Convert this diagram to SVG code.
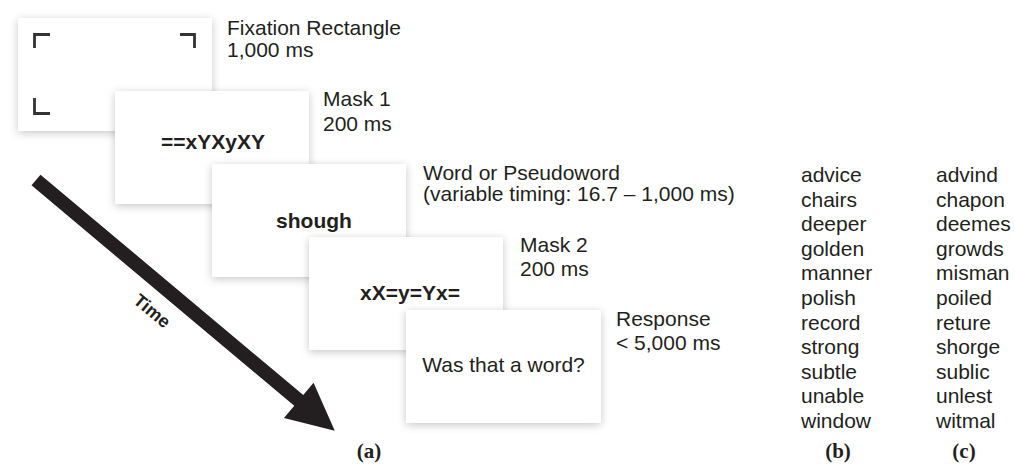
<svg xmlns="http://www.w3.org/2000/svg" width="1015" height="465" viewBox="0 0 1015 465">
<style>
text{font-family:"Liberation Sans",Arial,sans-serif;fill:#231f20}
.lbl{font-size:21px}
.cb{font-size:21px;font-weight:bold;text-anchor:middle}
.cr{font-size:21px;text-anchor:middle}
.wl{font-size:21px}
.cap{font-family:"Liberation Serif","Times New Roman",serif;font-size:21px;font-weight:bold;text-anchor:middle}
.card{fill:#fff;filter:url(#sh)}
.mark{fill:none;stroke:#333;stroke-width:2.8}
</style>
<defs>
<filter id="sh" x="-20%" y="-20%" width="140%" height="140%">
<feDropShadow dx="0" dy="2" stdDeviation="4" flood-color="#000" flood-opacity="0.22"/>
</filter>
</defs>
<rect width="1015" height="465" fill="#fff"/>
<g id="screen-fixation">
<rect class="card" x="18" y="18" width="194" height="113"/>
<path class="mark" d="M34.5,48 V34.5 H50"/>
<path class="mark" d="M180,34.5 H194.5 V48"/>
<path class="mark" d="M34.5,98 V113.5 H50"/>
<text class="lbl" x="227" y="35">Fixation Rectangle</text>
<text class="lbl" x="227" y="57">1,000 ms</text>
</g>
<g id="screen-mask1">
<rect class="card" x="115" y="91" width="194" height="113"/>
<text class="cb" x="213" y="149">==xYXyXY</text>
<text class="lbl" x="323" y="106">Mask 1</text>
<text class="lbl" x="323" y="131">200 ms</text>
</g>
<g id="screen-word">
<rect class="card" x="212" y="164" width="194" height="113"/>
<text class="cb" x="314" y="228">shough</text>
<text class="lbl" x="423" y="180">Word or Pseudoword</text>
<text class="lbl" x="423" y="201">(variable timing: 16.7 – 1,000 ms)</text>
</g>
<g id="screen-mask2">
<rect class="card" x="309" y="237" width="194" height="113"/>
<text class="cb" x="410" y="300">xX=y=Yx=</text>
<text class="lbl" x="520" y="252">Mask 2</text>
<text class="lbl" x="520" y="276">200 ms</text>
</g>
<g id="screen-response">
<rect class="card" x="406" y="310" width="195" height="113"/>
<text class="cr" x="503.5" y="372">Was that a word?</text>
<text class="lbl" x="616" y="326">Response</text>
<text class="lbl" x="616" y="350">&lt; 5,000 ms</text>
</g>
<g id="connectors">
<g id="time-arrow" transform="translate(36,180) rotate(40)">
<polygon points="0,-7 343,-7 343,-23 390,0 343,23 343,7 0,7" fill="#231f20"/>
</g>
<text transform="translate(152,311) rotate(40)" x="0" y="6" style="font-size:18px;font-weight:bold;text-anchor:middle">Time</text>
</g>
<g id="words">
<text class="wl" x="801" y="182">advice</text>
<text class="wl" x="801" y="206.6">chairs</text>
<text class="wl" x="801" y="231.2">deeper</text>
<text class="wl" x="801" y="255.8">golden</text>
<text class="wl" x="801" y="280.4">manner</text>
<text class="wl" x="801" y="305">polish</text>
<text class="wl" x="801" y="329.6">record</text>
<text class="wl" x="801" y="354.2">strong</text>
<text class="wl" x="801" y="378.8">subtle</text>
<text class="wl" x="801" y="403.4">unable</text>
<text class="wl" x="801" y="428">window</text>
</g>
<g id="pseudowords">
<text class="wl" x="936" y="182">advind</text>
<text class="wl" x="936" y="206.6">chapon</text>
<text class="wl" x="936" y="231.2">deemes</text>
<text class="wl" x="936" y="255.8">growds</text>
<text class="wl" x="936" y="280.4">misman</text>
<text class="wl" x="936" y="305">poiled</text>
<text class="wl" x="936" y="329.6">reture</text>
<text class="wl" x="936" y="354.2">shorge</text>
<text class="wl" x="936" y="378.8">sublic</text>
<text class="wl" x="936" y="403.4">unlest</text>
<text class="wl" x="936" y="428">witmal</text>
</g>
<g id="captions">
<text class="cap" x="369" y="458">(a)</text>
<text class="cap" x="838" y="458">(b)</text>
<text class="cap" x="964" y="458">(c)</text>
</g>
</svg>
